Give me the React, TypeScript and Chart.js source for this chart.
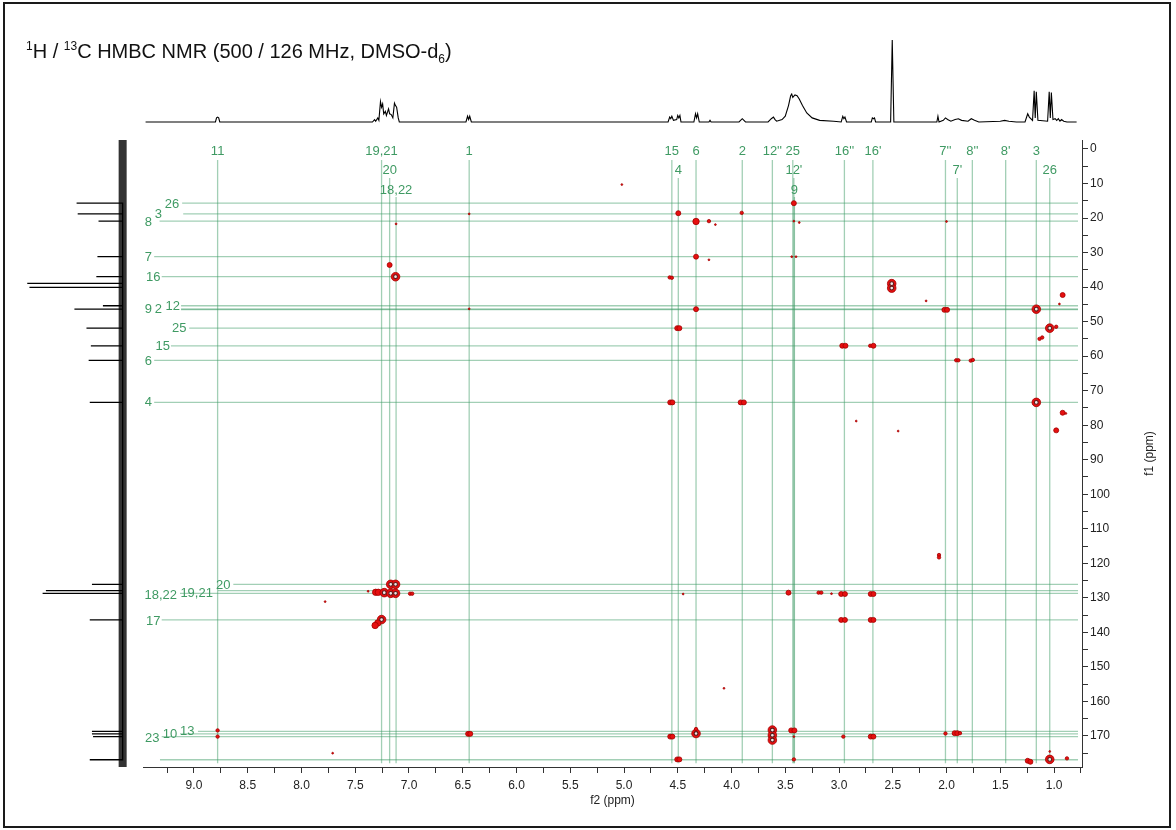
import React, { useEffect, useRef } from 'react';
import { Chart, registerables } from 'chart.js';

Chart.register(...registerables);

// ---------- axis ranges (ppm) ----------
const F2_MIN = 0.74;
const F2_MAX = 9.474;
const F1_MIN = -2.6;
const F1_MAX = 179.0;

// ---------- 2D HMBC cross peaks ----------
const peakF2 = [
  5.02, 3.42, 4.495, 3.905, 6.44, 4.33, 4.21, 4.15, 3.42, 3.37, 2.0, 7.12,
  4.33, 4.21, 3.44, 3.40, 7.18, 7.125, 4.575, 4.555, 2.51, 2.51, 2.19, 0.92, 0.95,
  6.44, 4.33, 2.02, 1.995, 1.165, 4.505, 4.485, 1.04, 0.98, 1.135, 1.11,
  2.97, 2.94, 2.71, 2.68, 1.91, 1.89, 1.775, 1.755,
  4.57, 4.55, 3.915, 3.885, 1.165, 0.92, 0.89, 0.98, 2.84, 2.45, 2.07, 2.07,
  7.17, 7.125, 7.31, 7.285, 7.23, 7.17, 7.125, 6.99, 6.97, 7.38, 7.78,
  7.255, 7.29, 7.315, 3.47, 3.19, 3.165, 2.98, 2.945, 2.705, 2.68, 4.45, 3.07,
  2.98, 2.945, 2.705, 2.68, 4.07,
  8.78, 8.78, 6.45, 6.43, 4.57, 4.55, 4.33, 4.33, 3.62, 3.62, 3.62, 3.445, 3.415, 3.42,
  2.96, 2.705, 2.68, 2.01, 1.925, 1.90, 1.875,
  4.505, 4.485, 3.42, 1.245, 1.22, 1.04, 1.04, 0.88, 7.71,
];
const peakF1 = [
  10.3, 15.7, 18.6, 18.5, 18.8, 21.0, 20.9, 21.9, 20.9, 21.3, 21.0, 21.7,
  31.2, 32.1, 31.2, 31.2, 33.6, 37.0, 37.2, 37.3, 39.0, 40.3, 44.0, 42.3, 44.9,
  46.3, 46.4, 46.6, 46.6, 46.4, 51.9, 51.9, 51.9, 51.5, 55.0, 54.6,
  57.0, 57.0, 57.0, 57.0, 61.2, 61.2, 61.3, 61.1,
  73.4, 73.4, 73.4, 73.4, 73.4, 76.4, 76.6, 81.5, 78.8, 81.7, 117.6, 118.3,
  126.1, 126.1, 128.4, 128.4, 128.5, 128.7, 128.7, 128.8, 128.8, 128.1, 131.1,
  136.3, 137.3, 138.0, 128.5, 128.5, 128.5, 128.9, 128.9, 128.9, 128.9, 128.9, 128.8,
  136.4, 136.4, 136.4, 136.4, 156.2,
  168.4, 170.2, 169.4, 169.4, 170.2, 170.2, 169.3, 168.0, 168.3, 169.8, 171.2, 168.4, 168.4, 170.2,
  170.2, 170.2, 170.2, 169.3, 169.2, 169.2, 169.2,
  176.8, 176.8, 176.8, 177.2, 177.5, 176.8, 174.5, 176.5, 175.0,
];
// relative intensity level (1 = weakest, 5 = strongest, drawn with contour ring)
const peakLevel = [
  1, 3, 3, 2, 1, 4, 2, 1, 1, 1, 1, 1,
  3, 1, 1, 1, 3, 5, 2, 2, 5, 5, 1, 3, 1,
  1, 3, 3, 3, 5, 3, 3, 5, 2, 2, 2,
  3, 3, 2, 3, 2, 2, 2, 2,
  3, 3, 3, 3, 5, 3, 1, 3, 1, 1, 2, 2,
  5, 5, 4, 4, 5, 5, 5, 2, 2, 1, 1,
  5, 4, 4, 3, 2, 2, 3, 3, 3, 3, 1, 1,
  3, 3, 3, 3, 1,
  2, 2, 3, 3, 3, 3, 5, 2, 5, 5, 5, 3, 3, 1,
  2, 3, 3, 2, 3, 3, 2,
  3, 3, 2, 3, 3, 5, 1, 2, 1,
];

// ---------- 1H projection (top) ----------
const hShift = [
  9.45, 8.80, 8.79, 8.78, 8.77, 8.76,
  7.34, 7.32, 7.31, 7.29, 7.28, 7.265, 7.255, 7.245, 7.235, 7.22, 7.21, 7.19, 7.18, 7.165, 7.15, 7.135, 7.125, 7.115, 7.10, 7.09,
  6.47, 6.455, 6.445, 6.435, 6.42,
  4.59, 4.575, 4.565, 4.555, 4.54, 4.51, 4.50, 4.49, 4.48, 4.47,
  4.35, 4.335, 4.325, 4.315, 4.30, 4.21, 4.20, 4.19,
  3.93, 3.90, 3.87, 3.66, 3.63, 3.61, 3.595, 3.58,
  3.53, 3.50, 3.47, 3.45, 3.44, 3.43, 3.41, 3.39, 3.37, 3.34, 3.30, 3.25, 3.18, 3.05, 2.98,
  2.965, 2.955, 2.945, 2.93, 2.70, 2.69, 2.68, 2.67, 2.66,
  2.52, 2.505, 2.49,
  2.09, 2.08, 2.07, 2.03, 2.01, 1.99, 1.96, 1.92, 1.89, 1.86, 1.80, 1.77, 1.74, 1.70,
  1.50, 1.46, 1.42, 1.35,
  1.27, 1.245, 1.23, 1.20, 1.185, 1.175, 1.165, 1.15,
  1.06, 1.045, 1.035, 1.025, 1.01, 0.99, 0.975, 0.96, 0.945, 0.93, 0.91, 0.88, 0.79,
];
const hInt = [
  0, 0, 0.05, 0.06, 0.05, 0,
  0, 0.03, 0.01, 0.05, 0.02, 0.25, 0.18, 0.22, 0.1, 0.13, 0.08, 0.16, 0.1, 0.09, 0.05, 0.23, 0.2, 0.18, 0.05, 0,
  0, 0.07, 0.03, 0.07, 0,
  0, 0.06, 0.04, 0.07, 0.02, 0.03, 0.08, 0.05, 0.08, 0,
  0, 0.1, 0.05, 0.1, 0, 0, 0.02, 0,
  0, 0.04, 0, 0, 0.04, 0.06, 0.03, 0.01,
  0.03, 0.07, 0.2, 0.32, 0.34, 0.3, 0.33, 0.32, 0.28, 0.2, 0.11, 0.05, 0.02, 0.01, 0,
  0.07, 0.04, 0.06, 0, 0, 0.05, 0.04, 0.05, 0,
  0, 1.0, 0,
  0, 0.07, 0, 0.02, 0.05, 0.03, 0.01, 0.03, 0.04, 0.02, 0.01, 0.04, 0.02, 0,
  0.01, 0.02, 0.01, 0,
  0, 0.1, 0.06, 0.02, 0.38, 0.05, 0.37, 0.02,
  0.01, 0.37, 0.05, 0.36, 0.03, 0.04, 0.02, 0.04, 0.01, 0.03, 0.01, 0, 0,
];

// ---------- 13C projection (left) ----------
const cShift = [15.7, 18.8, 20.9, 31.2, 37.0, 38.9, 40.1, 45.4, 46.4, 51.9, 57.0, 61.2, 73.4, 126.1, 127.9, 128.7, 136.4, 168.7, 169.4, 170.2, 176.9];
const cInt = [0.42, 0.41, 0.22, 0.23, 0.24, 0.87, 0.85, 0.18, 0.44, 0.33, 0.29, 0.31, 0.3, 0.28, 0.7, 0.73, 0.3, 0.28, 0.28, 0.27, 0.3];

// ---------- assignment guide lines ----------
const vLabel = ['11', '19,21', '1', '15', '6', '2', "12''", '25', "16''", "16'", "7''", "8''", "8'", '3', '20', '4', "12'", "7'", '26', '18,22', '9'];
const vF2 = [8.78, 7.255, 6.44, 4.555, 4.33, 3.90, 3.62, 3.43, 2.95, 2.685, 2.01, 1.76, 1.45, 1.165, 7.18, 4.495, 3.42, 1.90, 1.04, 7.12, 3.415];
const vRow = [0, 0, 0, 0, 0, 0, 0, 0, 0, 0, 0, 0, 0, 0, 1, 1, 1, 1, 1, 2, 2];
const vRowLabelF1 = [0.6, 6.3, 11.9];
const vRowStartF1 = [3.2, 8.4, 13.9];

const hLabel = ['26', '3', '8', '7', '16', '12', '2', '9', '25', '15', '6', '4', '20', '19,21', '18,22', '17', '13', '10', '23', ''];
const hF1 = [15.7, 18.8, 20.9, 31.2, 37.0, 45.4, 46.4, 46.5, 51.9, 57.0, 61.2, 73.4, 126.1, 127.9, 128.7, 136.4, 168.7, 169.4, 170.2, 176.9];
const hStartF2 = [9.11, 9.10, 9.32, 9.37, 9.30, 9.12, 9.12, 9.12, 9.044, 9.214, 9.37, 9.37, 8.634, 8.777, 9.13, 9.30, 8.963, 9.13, 9.30, 9.316];
const hLabelF2 = [9.205, 9.332, 9.425, 9.425, 9.379, 9.198, 9.332, 9.425, 9.137, 9.291, 9.425, 9.425, 8.727, 8.975, 9.309, 9.379, 9.062, 9.223, 9.388, 0];
const hLabelF1 = [16.0, 18.9, 21.3, 31.4, 37.3, 45.7, 46.6, 46.6, 52.1, 57.1, 61.4, 73.5, 126.5, 128.7, 129.2, 136.7, 168.7, 169.7, 170.7, 0];
const GUIDE_END_F1 = 177.9;
const GUIDE_END_F2 = 0.777;

const FONT = '"Liberation Sans", Arial, sans-serif';
const GUIDE_COLOR = 'rgba(60,155,100,0.48)';
const LABEL_COLOR = '#3f9a63';
const RADIUS = [0, 0.9, 1.7, 2.5, 3.2, 4.3];

const guidePlugin = {
  id: 'guides',
  beforeDatasetsDraw(chart: any) {
    const { ctx } = chart;
    const x = chart.scales.x;
    const y = chart.scales.y;
    ctx.save();
    ctx.lineWidth = 1.3;
    ctx.strokeStyle = GUIDE_COLOR;
    vF2.forEach((f2, i) => {
      const px = x.getPixelForValue(f2);
      ctx.beginPath();
      ctx.moveTo(px, y.getPixelForValue(vRowStartF1[vRow[i]]));
      ctx.lineTo(px, y.getPixelForValue(GUIDE_END_F1));
      ctx.stroke();
    });
    hF1.forEach((f1, i) => {
      const py = y.getPixelForValue(f1);
      ctx.beginPath();
      ctx.moveTo(x.getPixelForValue(hStartF2[i]), py);
      ctx.lineTo(x.getPixelForValue(GUIDE_END_F2), py);
      ctx.stroke();
    });
    ctx.fillStyle = LABEL_COLOR;
    ctx.font = `13px ${FONT}`;
    ctx.textAlign = 'center';
    ctx.textBaseline = 'middle';
    vLabel.forEach((t, i) => {
      ctx.fillText(t, x.getPixelForValue(vF2[i]), y.getPixelForValue(vRowLabelF1[vRow[i]]));
    });
    hLabel.forEach((t, i) => {
      if (!t) return;
      ctx.fillText(t, x.getPixelForValue(hLabelF2[i]), y.getPixelForValue(hLabelF1[i]));
    });
    ctx.restore();
  },
  afterDraw(chart: any) {
    const { ctx } = chart;
    const y = chart.scales.y;
    ctx.save();
    ctx.fillStyle = '#222';
    ctx.font = `12px ${FONT}`;
    ctx.textAlign = 'center';
    ctx.textBaseline = 'middle';
    ctx.translate(1150, (y.top + y.bottom) / 2);
    ctx.rotate(-Math.PI / 2);
    ctx.fillText('f1 (ppm)', 0, 0);
    ctx.restore();
  },
};

export default function App() {
  const mainRef = useRef<HTMLCanvasElement>(null);
  const topRef = useRef<HTMLCanvasElement>(null);
  const leftRef = useRef<HTMLCanvasElement>(null);

  useEffect(() => {
    const charts: Chart[] = [];
    const peaks = peakF2.map((f2, i) => ({ x: f2, y: peakF1[i] }));
    const radii = peakLevel.map((l) => RADIUS[l]);
    const ringIdx = peakLevel.map((l, i) => (l === 5 ? i : -1)).filter((i) => i >= 0);
    const rings = ringIdx.map((i) => ({ x: peakF2[i], y: peakF1[i] }));

    charts.push(
      new Chart(mainRef.current!, {
        type: 'scatter',
        data: {
          datasets: [
            {
              data: peaks,
              order: 2,
              pointRadius: radii,
              pointBackgroundColor: '#e61010',
              pointBorderColor: '#a30000',
              pointBorderWidth: 0.8,
            },
            {
              data: rings,
              order: 1,
              pointRadius: 1.9,
              pointBackgroundColor: '#f1e6e6',
              pointBorderColor: '#5a1a1a',
              pointBorderWidth: 1.1,
            },
          ],
        },
        options: {
          animation: false,
          responsive: false,
          events: [],
          layout: { padding: { left: 143, top: 140, right: 0, bottom: 18 } },
          plugins: { legend: { display: false }, tooltip: { enabled: false }, title: { display: false } },
          scales: {
            x: {
              type: 'linear',
              position: 'bottom',
              min: F2_MIN,
              max: F2_MAX,
              reverse: true,
              afterFit: (s: any) => {
                s.height = 45;
              },
              grid: { drawOnChartArea: false, drawTicks: true, tickLength: 6, color: '#333' },
              border: { display: true, color: '#333', width: 1 },
              ticks: {
                stepSize: 0.25,
                maxTicksLimit: 1000,
                includeBounds: false,
                autoSkip: false,
                maxRotation: 0,
                padding: 5,
                color: '#222',
                font: { family: FONT, size: 12 },
                callback: (v: any) => {
                  const r = Number(v);
                  return Math.abs(r * 2 - Math.round(r * 2)) < 1e-6 ? r.toFixed(1) : '';
                },
              },
              title: {
                display: true,
                text: 'f2 (ppm)',
                color: '#222',
                font: { family: FONT, size: 12 },
                padding: { top: 2, bottom: 4 },
              },
            },
            y: {
              type: 'linear',
              position: 'right',
              min: F1_MIN,
              max: F1_MAX,
              reverse: true,
              afterFit: (s: any) => {
                s.width = 94;
              },
              grid: { drawOnChartArea: false, drawTicks: true, tickLength: 6, color: '#333' },
              border: { display: true, color: '#333', width: 1 },
              ticks: {
                stepSize: 5,
                maxTicksLimit: 1000,
                includeBounds: false,
                autoSkip: false,
                padding: 2,
                color: '#222',
                font: { family: FONT, size: 12 },
                callback: (v: any) => {
                  const r = Math.round(Number(v));
                  return r % 10 === 0 ? String(r) : '';
                },
              },
              title: { display: false },
            },
          },
        },
        plugins: [guidePlugin],
      } as any)
    );

    // top 1H projection
    charts.push(
      new Chart(topRef.current!, {
        type: 'scatter',
        data: {
          datasets: [
            {
              data: hShift.map((s, i) => ({ x: s, y: hInt[i] })),
              showLine: true,
              pointRadius: 0,
              borderColor: '#000',
              borderWidth: 1.1,
              tension: 0,
            },
          ],
        },
        options: {
          animation: false,
          responsive: false,
          events: [],
          layout: { padding: 0 },
          plugins: { legend: { display: false }, tooltip: { enabled: false } },
          scales: {
            x: { type: 'linear', min: F2_MIN, max: F2_MAX, reverse: true, display: false },
            y: { type: 'linear', min: -0.0976, max: 1.122, display: false },
          },
        },
      } as any)
    );

    // left 13C projection
    const spikes: { x: number; y: number }[] = [];
    cShift.forEach((s, i) => {
      spikes.push({ x: 0, y: s }, { x: cInt[i], y: s }, { x: 0, y: s });
    });
    charts.push(
      new Chart(leftRef.current!, {
        type: 'scatter',
        data: {
          datasets: [
            {
              data: spikes,
              showLine: true,
              pointRadius: 0,
              borderColor: '#000',
              borderWidth: 1.3,
              tension: 0,
            },
            {
              data: [
                { x: 0, y: F1_MIN },
                { x: 0, y: F1_MAX },
              ],
              showLine: true,
              pointRadius: 0,
              borderColor: 'rgba(15,15,15,0.85)',
              borderWidth: 8,
            },
          ],
        },
        options: {
          animation: false,
          responsive: false,
          events: [],
          layout: { padding: 0 },
          plugins: { legend: { display: false }, tooltip: { enabled: false } },
          scales: {
            x: { type: 'linear', min: -0.14, max: 1, reverse: true, display: false },
            y: { type: 'linear', min: F1_MIN, max: F1_MAX, reverse: true, display: false },
          },
        },
      } as any)
    );

    return () => charts.forEach((c) => c.destroy());
  }, []);

  return (
    <div
      style={{
        position: 'absolute',
        left: 0,
        top: 0,
        width: 1176,
        height: 830,
        background: '#fff',
        overflow: 'hidden',
      }}
    >
      <canvas ref={mainRef} width={1176} height={830} style={{ position: 'absolute', left: 0, top: 0, width: 1176, height: 830 }} />
      <canvas ref={topRef} width={939} height={100} style={{ position: 'absolute', left: 143, top: 30, width: 939, height: 100 }} />
      <canvas ref={leftRef} width={125} height={627} style={{ position: 'absolute', left: 13, top: 140, width: 125, height: 627 }} />
      <div
        style={{
          position: 'absolute',
          left: 26,
          top: 35,
          fontFamily: FONT,
          fontSize: 20,
          color: '#111',
          whiteSpace: 'nowrap',
          lineHeight: '23px',
        }}
      >
        <sup style={{ fontSize: '0.6em' }}>1</sup>H / <sup style={{ fontSize: '0.6em' }}>13</sup>C HMBC NMR (500 / 126 MHz, DMSO-d
        <sub style={{ fontSize: '0.6em' }}>6</sub>)
      </div>
      <div
        style={{
          position: 'absolute',
          left: 3,
          top: 2,
          width: 1168,
          height: 826,
          border: '2px solid #1a1a1a',
          boxSizing: 'border-box',
          pointerEvents: 'none',
        }}
      />
    </div>
  );
}
